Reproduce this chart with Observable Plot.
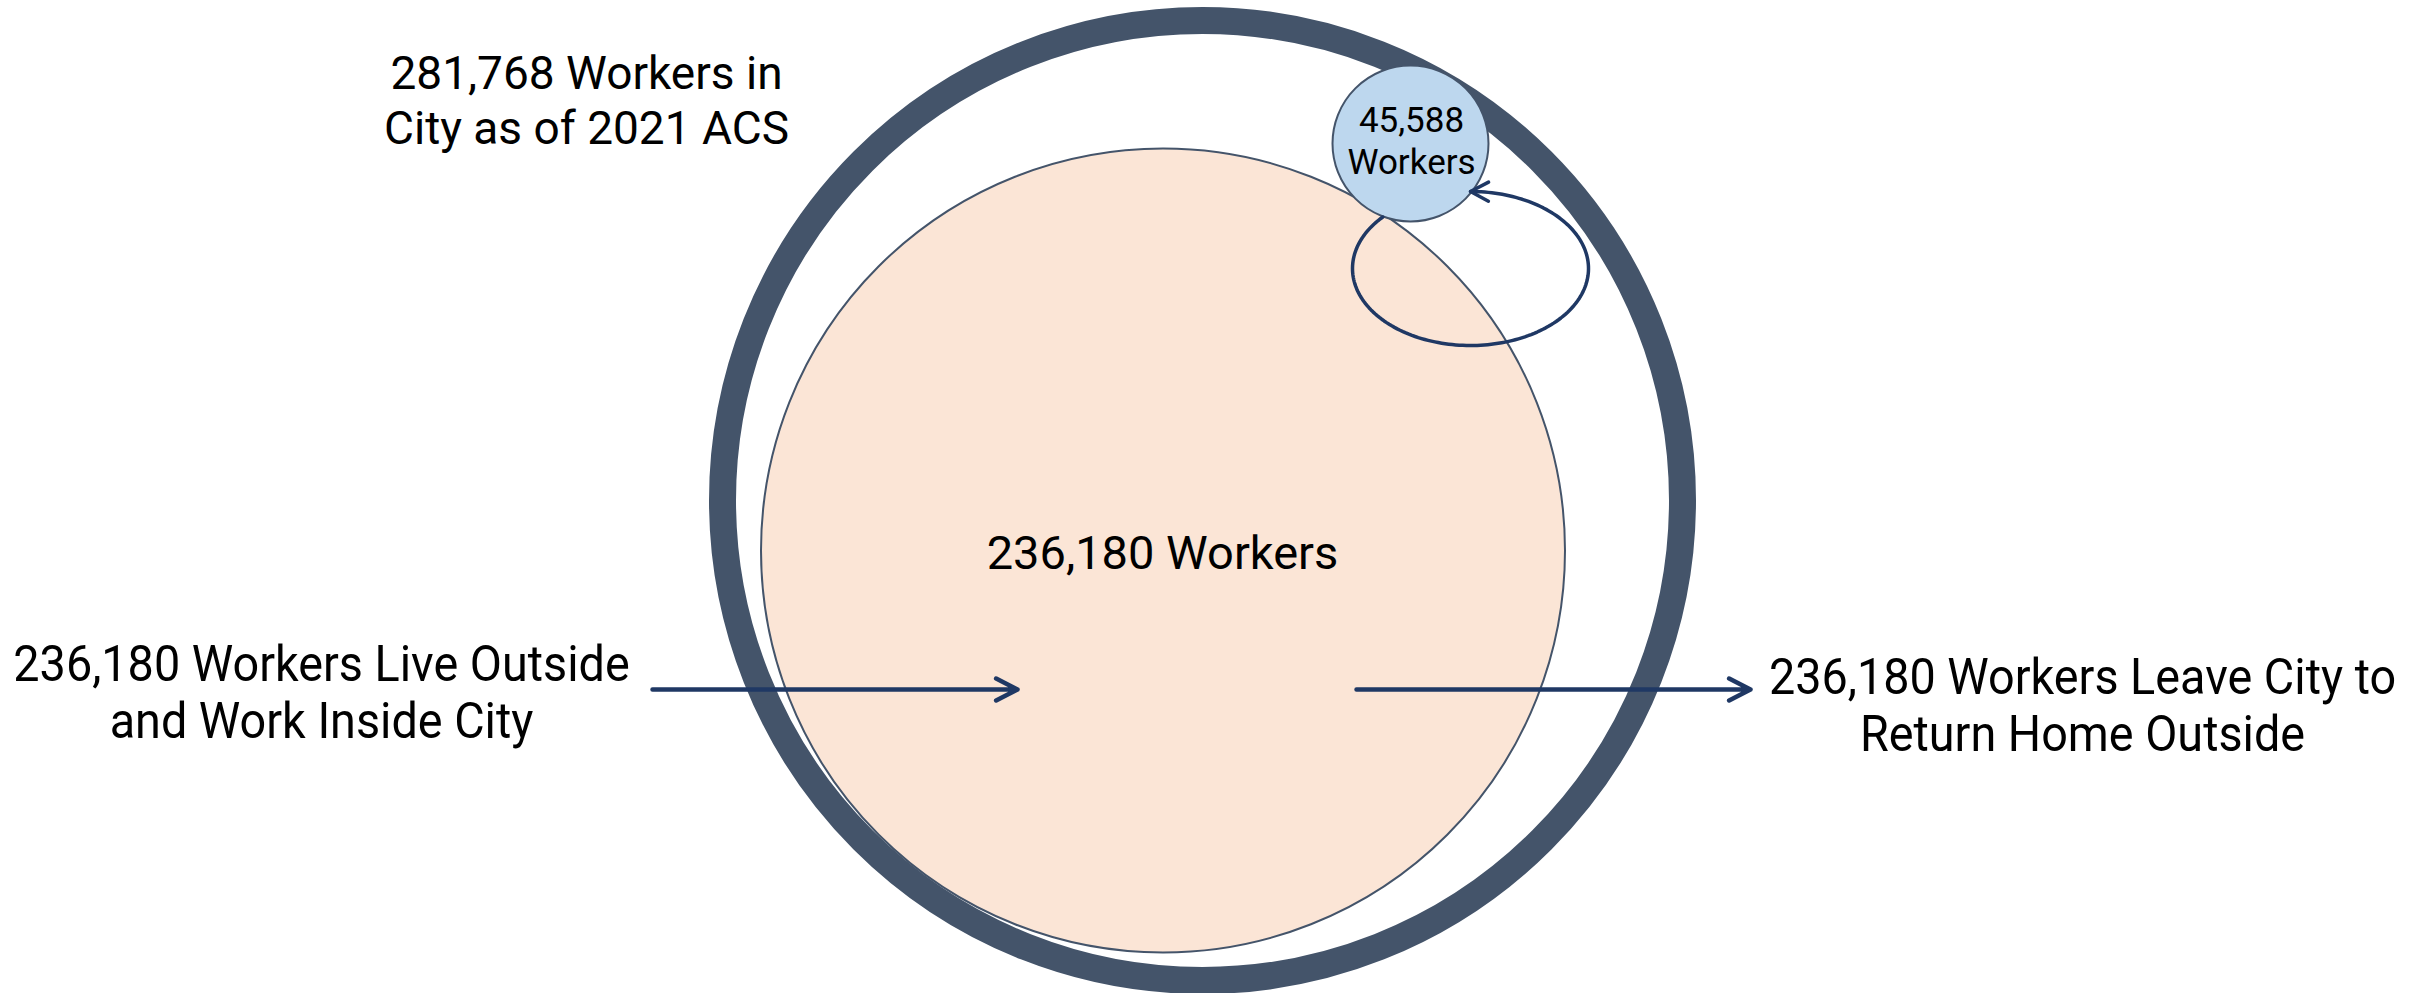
<!DOCTYPE html>
<html>
<head>
<meta charset="utf-8">
<script src="https://cdn.jsdelivr.net/npm/d3@7"></script>
<script src="https://cdn.jsdelivr.net/npm/@observablehq/plot@0.6"></script>
<style>
  html, body { margin: 0; padding: 0; background: #ffffff; }
  #chart svg { display: block; }
</style>
</head>
<body>
<div id="chart"></div>
<script>
// ---------------- values ----------------
const groups = [
  "Workers in city (2021 ACS)",
  "Live outside, work inside",
  "Live and work inside",
  "Commute in",
  "Commute out"
];
const workers = [281768, 236180, 45588, 236180, 236180];
const fmt = d3.format(",");
const labelLines = [
  [`${fmt(workers[0])} Workers in`, "City as of 2021 ACS"],
  [`${fmt(workers[1])} Workers`],
  [`${fmt(workers[2])}`, "Workers"],
  [`${fmt(workers[3])} Workers Live Outside`, "and Work Inside City"],
  [`${fmt(workers[4])} Workers Leave City to`, "Return Home Outside"]
];

// ---------------- layout (diagram units, mapped by the scales) ----------------
const W = 2423, H = 993;
// circles: city ring, outside-living workers, inside-living workers
const circleX = [1202, 1162.5, 1410];
const circleY = [500, 550, 143];
const circleR = [480, 402, 78];
// label anchors (x centre, y = baseline of the last line)
const labelX = [586, 1162, 1411, 321, 2082];
const labelY = [143, 568, 173, 737, 750];
const labelSize = [46, 47, 35, 50, 50];
const labelLeading = [1.19, 1.2, 1.19, 1.14, 1.14];
const labelSqueeze = [1, 1, 1, 0.935, 0.935];
// straight flow arrows
const arrowX1 = [652, 1356];
const arrowX2 = [1017, 1750];
const arrowY = [689, 689];
// self loop (ellipse) for people who live and work inside
const loopCx = 1470, loopCy = 268, loopRx = 118, loopRy = 77;
const loopStartDeg = 222, loopEndDeg = -90;

// ---------------- styles ----------------
const ringColor = "#44546a";
const arrowColor = "#1f3864";

// ---------------- build tables ----------------
const circles = groups.slice(0, 3).map((g, i) => ({
  group: g, value: workers[i], x: circleX[i], y: circleY[i], r: circleR[i]
}));
const arrows = [3, 4].map((k, j) => ({
  group: groups[k], value: workers[k], x1: arrowX1[j], x2: arrowX2[j], y: arrowY[j]
}));
const loopPts = d3.range(0, 181).map(i => {
  const t = (loopStartDeg + (loopEndDeg - loopStartDeg) * i / 180) * Math.PI / 180;
  return {x: loopCx + loopRx * Math.cos(t), y: loopCy + loopRy * Math.sin(t)};
});
const labels = labelLines.map((lines, i) => ({
  text: lines.join("\n"), x: labelX[i], y: labelY[i],
  size: labelSize[i], leading: labelLeading[i], squeeze: labelSqueeze[i]
}));

// custom open chevron marker for the loop arrow
function chevron(color, context) {
  const doc = (context && context.document) || document;
  const ns = "http://www.w3.org/2000/svg";
  const m = doc.createElementNS(ns, "marker");
  m.setAttribute("viewBox", "-26 -14 30 28");
  m.setAttribute("markerUnits", "userSpaceOnUse");
  m.setAttribute("markerWidth", 30);
  m.setAttribute("markerHeight", 28);
  m.setAttribute("refX", 0);
  m.setAttribute("refY", 0);
  m.setAttribute("orient", "auto");
  m.setAttribute("overflow", "visible");
  const p = doc.createElementNS(ns, "path");
  p.setAttribute("d", "M-18,-9.5L0,0L-18,9.5");
  p.setAttribute("fill", "none");
  p.setAttribute("stroke", color);
  p.setAttribute("stroke-width", 3.5);
  p.setAttribute("stroke-linecap", "round");
  p.setAttribute("stroke-linejoin", "round");
  m.appendChild(p);
  return m;
}

const textMarks = labels.map(l => Plot.text([l], {
  x: "x", y: "y", text: "text",
  fontSize: l.size, lineHeight: l.leading, lineAnchor: "bottom",
  textAnchor: "middle", fill: "#000000"
}));

const svg = Plot.plot({
  width: W, height: H,
  margin: 0,
  x: {domain: [0, W], range: [0, W], axis: null},
  y: {domain: [0, H], range: [0, H], axis: null},
  r: {type: "identity"},
  style: {fontFamily: "Roboto, 'Liberation Sans', sans-serif", background: "#ffffff", overflow: "visible"},
  marks: [
    // outside-living workers (peach)
    Plot.dot([circles[1]], {x: "x", y: "y", r: "r", fill: "#fbe5d6", stroke: ringColor, strokeWidth: 2}),
    // city ring
    Plot.dot([circles[0]], {x: "x", y: "y", r: "r", fill: "none", stroke: ringColor, strokeWidth: 27}),
    // inside-living workers (blue)
    Plot.dot([circles[2]], {x: "x", y: "y", r: "r", fill: "#bdd7ee", stroke: ringColor, strokeWidth: 2}),
    // commute flows
    Plot.arrow(arrows, {
      x1: "x1", y1: "y", x2: "x2", y2: "y",
      stroke: arrowColor, strokeWidth: 4.5, headLength: 8, headAngle: 54,
      strokeLinecap: "round", strokeLinejoin: "round"
    }),
    // internal loop
    Plot.line(loopPts, {
      x: "x", y: "y", stroke: arrowColor, strokeWidth: 3.5, curve: "linear",
      markerEnd: chevron
    }),
    ...textMarks
  ]
});

// horizontally condense the two side labels (narrow face in the original)
d3.select(svg).selectAll("text").each(function () {
  const d = labels.find(l => l.text.replace(/\n/g, "") === this.textContent.replace(/\n/g, ""));
  if (d && d.squeeze !== 1) {
    const t = this.getAttribute("transform") || "";
    this.setAttribute("transform", `${t} scale(${d.squeeze},1)`);
  }
});

document.getElementById("chart").appendChild(svg);
</script>
</body>
</html>
